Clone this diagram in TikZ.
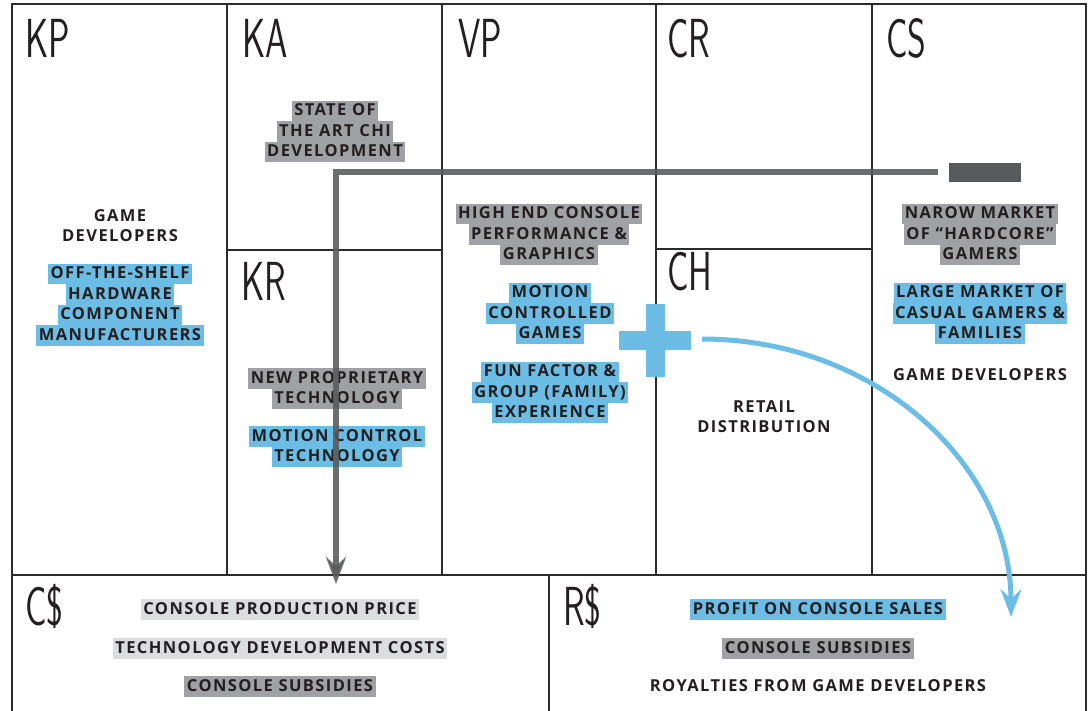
\documentclass[tikz,border=0pt]{standalone}
\usepackage{fontspec}
\setmainfont{Open Sans}
\newfontfamily\txtf[LetterSpace=8.5]{Open Sans}
\newfontfamily\bigf[FakeStretch=0.65]{lmsans17-regular.otf}
\usetikzlibrary{arrows.meta}

\definecolor{hlblue}{HTML}{6CBDE5}
\definecolor{hlgray}{HTML}{A0A1A4}
\definecolor{hllight}{HTML}{DCDDDF}
\definecolor{ink}{HTML}{231F20}
\definecolor{barcol}{HTML}{58595B}
\definecolor{framecol}{HTML}{2B2B2B}
\definecolor{arcblue}{HTML}{6CBDE5}

\newcommand\hlbox[2]{{\setlength\fboxsep{0pt}\colorbox{#1}{\rule[-5.5pt]{0pt}{20.5pt}\hspace{2.5pt}#2\hspace{2.5pt}}}}
\newcommand\hlB[1]{\hlbox{hlblue}{#1}}
\newcommand\hlG[1]{\hlbox{hlgray}{#1}}
\newcommand\hlLt[1]{\hlbox{hllight}{#1}}
\newcommand\hlN[1]{\rule[-5.5pt]{0pt}{20.5pt}#1}

\tikzset{
  txt/.style={font=\txtf\bfseries\fontsize{16.5}{20.5}\selectfont, text=ink, align=center, inner sep=0pt, yshift=-1.5pt},
  big/.style={font=\bigf\fontsize{55}{55}\selectfont, text=ink, inner sep=0pt, anchor=base west},
  gridline/.style={draw=framecol, line width=1.3pt},
  plusbar/.style={fill=arcblue, draw=none, inner sep=0pt},
}

\begin{document}
\begin{tikzpicture}[x=1pt,y=-1pt]
\useasboundingbox (0,0) rectangle (1090,710);

% frame
\draw[gridline] (12,712) -- (12,4) -- (1086,4) -- (1086,712);
\draw[gridline] (12,575) -- (1086,575);
\foreach \x in {227,442,656,872} \draw[gridline] (\x,4) -- (\x,575);
\draw[gridline] (227,250) -- (442,250);
\draw[gridline] (656,249) -- (872,249);
\draw[gridline] (549,575) -- (549,712);

% big labels
\node[big] (lKP) at (25,57) {KP};
\node[big] (lKA) at (242,57) {KA};
\node[big] (lVP) at (458,57) {VP};
\node[big] (lCR) at (667,57) {CR};
\node[big] (lCS) at (886,57) {CS};
\node[big] (lKR) at (241,300) {KR};
\node[big] (lCH) at (667,290) {CH};
\node[big] (lC) at (25,625) {C\$};
\node[big] (lR) at (563,625) {R\$};

% texts
\node[txt] (kp1) at (120,225) {\hlN{GAME}\\\hlN{DEVELOPERS}};
\node[txt] (kp2) at (120,303) {\hlB{OFF-THE-SHELF}\\\hlB{HARDWARE}\\\hlB{COMPONENT}\\\hlB{MANUFACTURERS}};
\node[txt] (ka1) at (335,130) {\hlG{STATE OF}\\\hlG{THE ART CHI}\\\hlG{DEVELOPMENT}};
\node[txt] (kr1) at (337,387) {\hlG{NEW PROPRIETARY}\\\hlG{TECHNOLOGY}};
\node[txt] (kr2) at (337,445) {\hlB{MOTION CONTROL}\\\hlB{TECHNOLOGY}};
\node[txt] (vp1) at (549,233) {\hlG{HIGH END CONSOLE}\\\hlG{PERFORMANCE \&}\\\hlG{GRAPHICS}};
\node[txt] (vp2) at (550,312) {\hlB{MOTION}\\\hlB{CONTROLLED}\\\hlB{GAMES}};
\node[txt] (vp3) at (550,391) {\hlB{FUN FACTOR \&}\\\hlB{GROUP (FAMILY)}\\\hlB{EXPERIENCE}};
\node[txt] (ch1) at (764,416) {\hlN{RETAIL}\\\hlN{DISTRIBUTION}};
\node[txt] (cs1) at (980,233) {\hlG{NAROW MARKET}\\\hlG{OF “HARDCORE”}\\\hlG{GAMERS}};
\node[txt] (cs2) at (980,312) {\hlB{LARGE MARKET OF}\\\hlB{CASUAL GAMERS \&}\\\hlB{FAMILIES}};
\node[txt] (cs3) at (980,374) {\hlN{GAME DEVELOPERS}};
\node[txt] (c1) at (280,608) {\hlLt{CONSOLE PRODUCTION PRICE}};
\node[txt] (c2) at (280,647) {\hlLt{TECHNOLOGY DEVELOPMENT COSTS}};
\node[txt] (c3) at (280,685) {\hlG{CONSOLE SUBSIDIES}};
\node[txt] (r1) at (818,608) {\hlB{PROFIT ON CONSOLE SALES}};
\node[txt] (r2) at (818,647) {\hlG{CONSOLE SUBSIDIES}};
\node[txt] (r3) at (818,685) {\hlN{ROYALTIES FROM GAME DEVELOPERS}};

% gray connector
\node[fill=barcol, minimum width=72pt, minimum height=19pt, inner sep=0pt] (gbar) at (985,172.5) {};
\coordinate (gstart) at (938,172);
\coordinate (gend) at (336,584);
\draw[draw=barcol, opacity=0.88, line width=5.8pt, line join=miter,
  -{Stealth[length=27pt,width=20pt,inset=9pt]}] (gstart) -| (gend);

% blue plus
\node[plusbar, minimum width=72pt, minimum height=19pt] (plush) at (655,340) {};
\node[plusbar, minimum width=19pt, minimum height=73pt] (plusv) at (655,340) {};

% blue arc
\coordinate (bstart) at (702,339);
\coordinate (bend) at (1011,617);
\draw[draw=arcblue, line width=5pt, -{Stealth[length=28pt,width=21pt,inset=10pt]}]
  (bstart) .. controls +(172,0) and +(0,-154) .. (bend);
\end{tikzpicture}
\end{document}
